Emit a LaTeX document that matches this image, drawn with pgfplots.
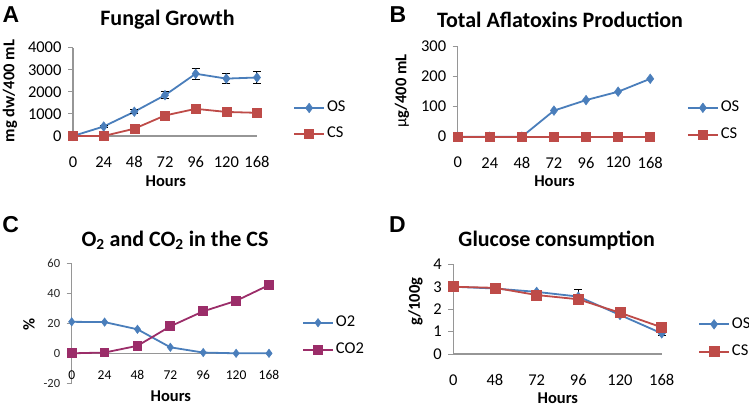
\documentclass[border=0pt]{standalone}
\usepackage{pgfplots}
\pgfplotsset{compat=1.18}
\usepackage{fontspec}
\setmainfont{Carlito}
\newfontfamily\letterfont{Liberation Sans}
\definecolor{osblue}{RGB}{74,126,187}
\definecolor{csred}{RGB}{190,75,72}
\definecolor{cotwo}{RGB}{155,45,105}
\definecolor{axgray}{RGB}{150,150,150}
\begin{document}
\begin{tikzpicture}[x=1pt,y=1pt]
\useasboundingbox (0,0) rectangle (749,408);
\pgfplotsset{
  panel/.style={
    scale only axis, clip=false,
    /pgf/number format/assume math mode=true,
    axis x line*=bottom, axis y line*=left,
    axis line style={draw=axgray, line width=1.5pt, -},
    tick align=outside,
    major tick length=5pt,
    xtick style={draw=none},
    ytick style={draw=axgray, line width=1pt},
    font=\fontsize{16.5}{18}\selectfont,
    xticklabel style={anchor=center, yshift=-21pt},
    yticklabel style={anchor=east, xshift=-3pt},
    every axis plot/.append style={line width=1.8pt},
    legend cell align=left,
    legend style={draw=none, fill=none, anchor=west, inner sep=0pt,
      row sep=12pt, column sep=2pt,
      nodes={inner sep=0pt, text height=11pt, text depth=3pt}},
    legend image code/.code={\draw[mark repeat=2,mark phase=2,##1] plot coordinates {(0pt,0pt) (15pt,0pt) (30pt,0pt)};},
  },
  errs/.style={
    error bars/y dir=both, error bars/y explicit,
    error bars/error bar style={black, line width=1pt},
    error bars/error mark options={rotate=90, black, mark size=4pt, line width=1pt},
  },
  osstyle/.style={color=osblue, mark=diamond*, mark size=4.8pt, mark options={fill=osblue, draw=osblue, line width=0.5pt}},
  csstyle/.style={color=csred, mark=square*, mark size=4.5pt, mark options={fill=csred, draw=csred, line width=0.5pt}},
}

% ---------------- A: fungal growth
\begin{axis}[panel, at={(73pt,272pt)}, anchor=south west, width=184pt, height=88.3pt,
  xmin=0, xmax=6, ymin=0, ymax=4000,
  xtick={0,...,6}, xticklabels={0,24,48,72,96,120,168},
  ytick={0,1000,2000,3000,4000},
  scaled y ticks=false, yticklabel style={/pgf/number format/1000 sep={}},
  legend style={at={(1.196,0.170)}}]
\addplot+[osstyle, errs] coordinates {(0,0) (1,430) +- (0,40) (2,1100) +- (0,80) (3,1850) +- (0,150) (4,2820) +- (0,250) (5,2600) +- (0,240) (6,2650) +- (0,250)};
\addlegendentry{OS}
\addplot+[csstyle] coordinates {(0,0) (1,0) (2,330) (3,930) (4,1230) (5,1090) (6,1050)};
\addlegendentry{CS}
\end{axis}

% ---------------- B: aflatoxins
\begin{axis}[panel, at={(457.7pt,271.3pt)}, anchor=south west, width=192.5pt, height=90pt,
  xmin=0, xmax=6, ymin=0, ymax=300,
  xtick={0,...,6}, xticklabels={0,24,48,72,96,120,168},
  ytick={0,100,200,300},
  legend style={at={(1.19,0.171)}, row sep=13pt}]
\addplot+[osstyle] coordinates {(0,0) (1,0) (2,0) (3,87) (4,122) (5,150) (6,193)};
\addlegendentry{OS}
\addplot+[csstyle] coordinates {(0,0) (1,0) (2,0) (3,0) (4,0) (5,0) (6,0)};
\addlegendentry{CS}
\end{axis}

% ---------------- C: O2 and CO2
\begin{axis}[panel, at={(71.7pt,24.7pt)}, anchor=south west, width=197.3pt, height=120pt,
  axis x line*=middle, hide obscured x ticks=false,
  xmin=0, xmax=6, ymin=-20, ymax=60,
  xtick={0,...,6}, xticklabels={0,24,48,72,96,120,168},
  ytick={-20,0,20,40,60},
  xticklabel style={font=\fontsize{13.5}{15}\selectfont, yshift=4pt},
  yticklabel style={font=\fontsize{12.5}{14}\selectfont, text=black!85},
  legend style={at={(1.167,0.3925)}, row sep=13pt}]
\addplot+[osstyle, mark size=4.2pt] coordinates {(0,21) (1,20.8) (2,16) (3,4) (4,0.5) (5,0) (6,0)};
\addlegendentry{O2}
\addplot+[color=cotwo, mark=square*, mark size=4pt, mark options={fill=cotwo, draw=cotwo}] coordinates {(0,0) (1,0.5) (2,5) (3,18) (4,28) (5,35) (6,45.5)};
\addlegendentry{CO2}
\end{axis}

% ---------------- D: glucose
\begin{axis}[panel, at={(453.3pt,54pt)}, anchor=south west, width=208.4pt, height=89.7pt,
  xmin=0, xmax=5, ymin=0, ymax=4,
  xtick={0,...,5}, xticklabels={0,48,72,96,120,168},
  ytick={0,1,2,3,4},
  legend style={at={(1.174,0.178)}, row sep=13.4pt}]
\addplot+[osstyle, errs] coordinates {(0,3.0) (1,2.92) +- (0,0.08) (2,2.77) +- (0,0.08) (3,2.56) +- (0,0.3) (4,1.74) +- (0,0.08) (5,0.92) +- (0,0.08)};
\addlegendentry{OS}
\addplot+[csstyle, mark size=5pt] coordinates {(0,3.0) (1,2.95) (2,2.63) (3,2.44) (4,1.84) (5,1.19)};
\addlegendentry{CS}
\end{axis}

% titles, axis labels, panel letters
\begin{scope}[font=\bfseries\fontsize{22}{24}\selectfont]
\node at (167.5,388) {Fungal Growth};
\node at (560,388) {Total Aflatoxins Production};
\node at (175,168) {O\textsubscript{2} and CO\textsubscript{2} in the CS};
\node at (556.7,168) {Glucose consumption};
\end{scope}
\begin{scope}[font=\bfseries\fontsize{16.5}{18}\selectfont]
\node at (165.8,226.3) {Hours};
\node at (554.5,226.3) {Hours};
\node at (170.8,11.3) {Hours};
\node at (557.8,9.3) {Hours};
\node[rotate=90] at (10,317) {mg dw/400 mL};
\node[rotate=90] at (402,317) {{\mdseries μ}g/400 mL};
\node[rotate=90] at (29,84) {\%};
\node[rotate=90] at (415.5,106.3) {g/100g};
\end{scope}
\begin{scope}[font=\letterfont\bfseries\fontsize{23}{25}\selectfont]
\node at (11,393) {A};
\node at (398,393) {B};
\node at (10.7,183) {C};
\node at (397.5,183) {D};
\end{scope}
\end{tikzpicture}
\end{document}
